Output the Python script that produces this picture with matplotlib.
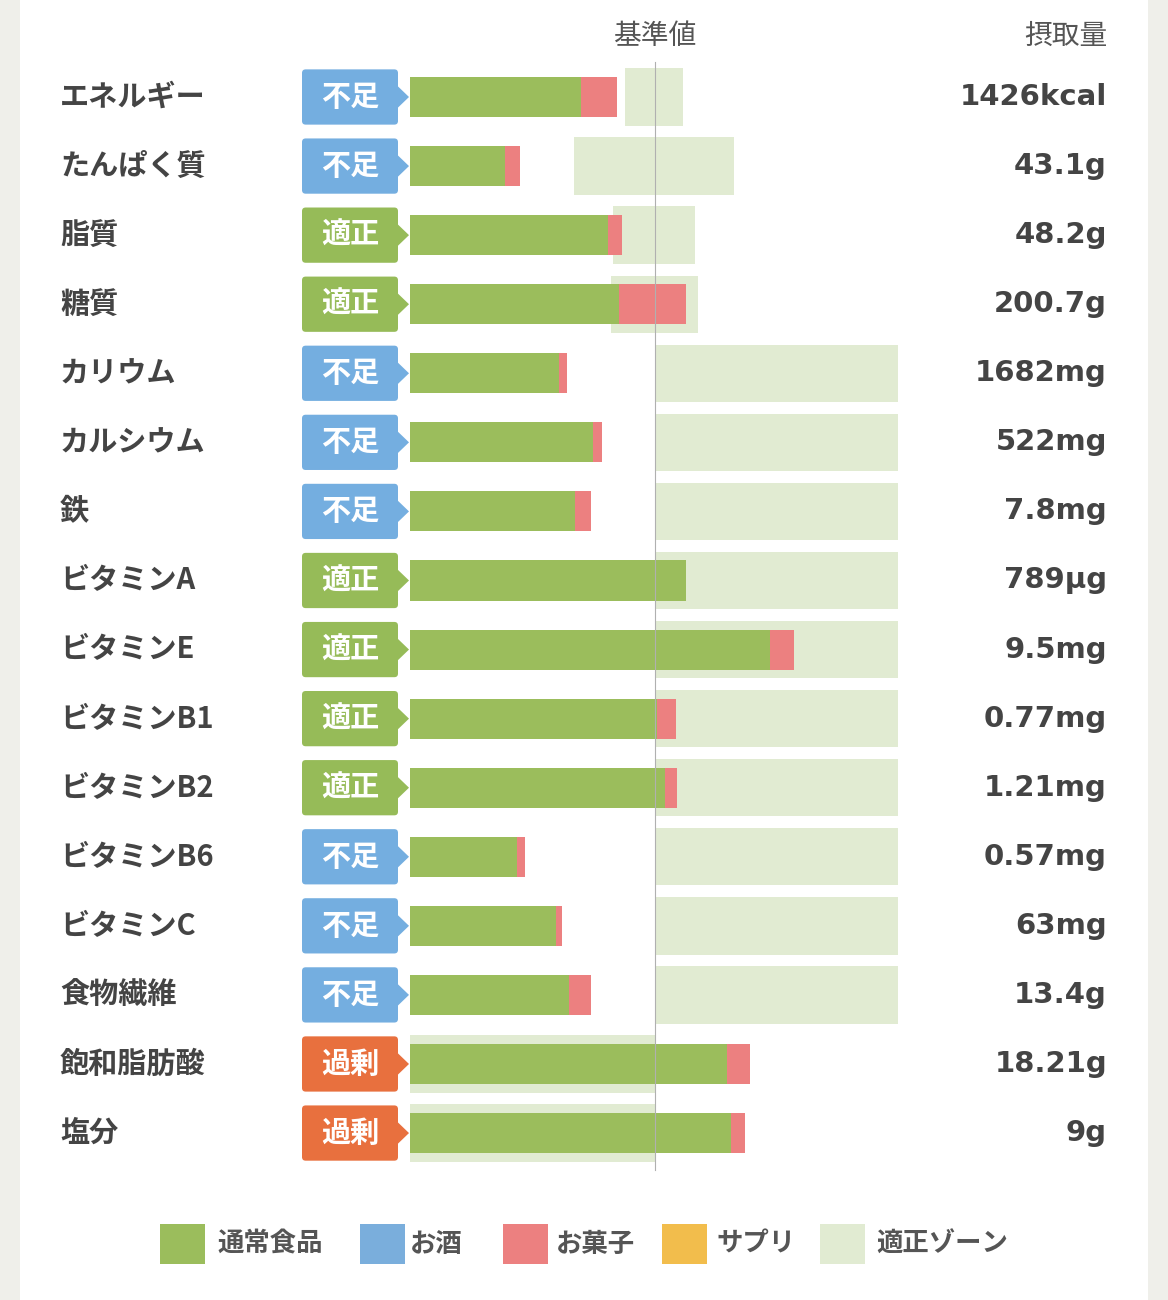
import matplotlib
matplotlib.use("Agg")
import matplotlib.pyplot as plt
from matplotlib.patches import FancyBboxPatch, Polygon, Rectangle

plt.rcParams['font.family'] = ['Noto Sans CJK JP', 'DejaVu Sans']

nutrients = ["エネルギー", "たんぱく質", "脂質", "糖質", "カリウム", "カルシウム", "鉄",
             "ビタミンA", "ビタミンE", "ビタミンB1", "ビタミンB2", "ビタミンB6",
             "ビタミンC", "食物繊維", "飽和脂肪酸", "塩分"]
status = ["不足", "不足", "適正", "適正", "不足", "不足", "不足", "適正", "適正", "適正",
          "適正", "不足", "不足", "不足", "過剰", "過剰"]
intake = ["1426kcal", "43.1g", "48.2g", "200.7g", "1682mg", "522mg", "7.8mg", "789µg",
          "9.5mg", "0.77mg", "1.21mg", "0.57mg", "63mg", "13.4g", "18.21g", "9g"]
# percentage of reference value
food = [69.8, 38.8, 80.8, 85.3, 60.8, 74.7, 67.3, 112.7, 146.9, 100.8, 104.1, 43.7,
        59.6, 64.9, 129.4, 131.0]
sweets = [14.7, 6.1, 5.7, 27.4, 3.3, 3.7, 6.6, 0.0, 9.8, 7.8, 4.9, 3.2, 2.4, 9.0, 9.4, 5.7]
zone_lo = [87.8, 66.9, 82.9, 82.0, 100, 100, 100, 100, 100, 100, 100, 100, 100, 100, 0, 0]
zone_hi = [111.4, 132.2, 116.3, 117.6, 199, 199, 199, 199, 199, 199, 199, 199, 199, 199, 100, 100]

C_FOOD = "#9bbd5c"
C_SWEET = "#ec8080"
C_ZONE = "#e1ebd2"
C_ALC = "#7aaedc"
C_SUP = "#f2bd4c"
badge_col = {"不足": "#74aee0", "適正": "#96bb58", "過剰": "#e8703e"}
TXT = "#444444"

W, H = 1168, 1300
fig = plt.figure(figsize=(W / 100, H / 100), dpi=100)
fig.patch.set_facecolor("#efefea")
ax = fig.add_axes([0, 0, 1, 1])
ax.set_facecolor("none")
ax.add_patch(Rectangle((20 / W, 0), 1128 / W, 1, transform=ax.transAxes,
                       facecolor="white", edgecolor="none", zorder=-10))
sx = 2.45
ax.set_xlim(-410 / sx, (W - 410) / sx)
row = 69.07
ax.set_ylim((H - 97) / row, -97 / row)
ax.axis("off")

n = len(nutrients)
ys = list(range(n))
ax.barh(ys, [h - l for l, h in zip(zone_lo, zone_hi)], left=zone_lo, height=0.83,
        color=C_ZONE, zorder=1)
ax.barh(ys, food, height=0.58, color=C_FOOD, zorder=2)
ax.barh(ys, sweets, left=food, height=0.58, color=C_SWEET, zorder=2)
ax.plot([100, 100], [(62 - 97) / row, (1170 - 97) / row], color="#b0b0b0", lw=0.8, zorder=3)

for i in ys:
    ax.text(-350 / sx, i, nutrients[i], ha="left", va="center", fontsize=21,
            color=TXT, fontweight="bold")
    ax.text((1107 - 410) / sx, i, intake[i], ha="right", va="center", fontsize=21,
            color=TXT, fontweight="bold", family=["DejaVu Sans"])
    c = badge_col[status[i]]
    x0, x1 = (302 - 410) / sx, (398 - 410) / sx
    ax.add_patch(FancyBboxPatch((x0, i - 0.4), x1 - x0, 0.8,
                                boxstyle="round,pad=0,rounding_size=1.5",
                                facecolor=c, edgecolor="none", zorder=3,
                                mutation_aspect=0.0355))
    ax.add_patch(Polygon([[x1 - 0.5, i - 0.17], [(409 - 410) / sx, i], [x1 - 0.5, i + 0.17]],
                         closed=True, facecolor=c, edgecolor="none", zorder=3))
    ax.text((x0 + x1) / 2, i, status[i], ha="center", va="center", fontsize=21,
            color="white", fontweight="bold", zorder=4)

ax.text(100, (36 - 97) / row, "基準値", ha="center", va="center", fontsize=20, color="#555555")
ax.text((1107 - 410) / sx, (36 - 97) / row, "摂取量", ha="right", va="center", fontsize=20,
        color="#555555")

legend_items = [("通常食品", C_FOOD, 160, 218), ("お酒", C_ALC, 360, 410),
                ("お菓子", C_SWEET, 503, 556), ("サプリ", C_SUP, 662, 716),
                ("適正ゾーン", C_ZONE, 820, 876)]
ly = 1244
for lab, col, x, tx in legend_items:
    ax.add_patch(Rectangle((x / W, 1 - (ly + 20) / H), 45 / W, 40 / H,
                           transform=ax.transAxes, facecolor=col,
                           edgecolor="none", zorder=2))
    ax.text(tx / W, 1 - ly / H, lab, ha="left", va="center", fontsize=19,
            color="#555555", fontweight="bold", transform=ax.transAxes)

fig.savefig("out.png", dpi=100, facecolor=fig.get_facecolor())
